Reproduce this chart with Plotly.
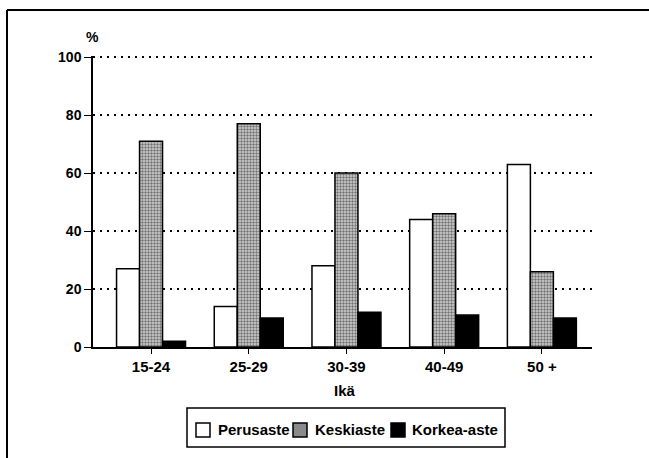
import plotly.graph_objects as go

categories = ["15-24", "25-29", "30-39", "40-49", "50 +"]
series_names = ["Perusaste", "Keskiaste", "Korkea-aste"]
perusaste = [27, 14, 28, 44, 63]
keskiaste = [71, 77, 60, 46, 26]
korkea_aste = [2, 10, 12, 11, 10]
y_ticks = [0, 20, 40, 60, 80, 100]

FONT = "Liberation Sans, Arial, sans-serif"
line = dict(color="black", width=1.5)
GREY_PATTERN = dict(shape=".", fgcolor="#111111", bgcolor="#d4d4d4", size=3, solidity=0.5)

# plot-area pixel geometry (page is 649x458)
L, R, T, B = 93, 592, 56, 347
W, H = R - L, B - T


def px(x):
    return (x - L) / W


def py(y):
    return (B - y) / H


fig = go.Figure()
fig.add_trace(go.Bar(name=series_names[0], x=list(range(5)), y=perusaste,
                     marker=dict(color="white", line=line)))
fig.add_trace(go.Bar(name=series_names[1], x=list(range(5)), y=keskiaste,
                     marker=dict(color="#c8c8c8", line=line, pattern=GREY_PATTERN)))
fig.add_trace(go.Bar(name=series_names[2], x=list(range(5)), y=korkea_aste,
                     marker=dict(color="black", line=line)))

# legend drawn as a compact boxed key under the axis title
sw_top, sw_bot = 423, 437
swatches = [(196, "white"), (293, "#8a8a8a"), (391, "black")]
text_x = [216, 313, 410]
shapes = [
    dict(type="rect", xref="paper", yref="paper", x0=px(187), x1=px(505), y0=py(447), y1=py(408),
         line=dict(color="black", width=1.5), fillcolor="white", layer="above"),
    # outer frame (left and top edges)
    dict(type="line", xref="paper", yref="paper", x0=px(7), x1=px(7), y0=py(470), y1=py(10),
         line=dict(color="black", width=2)),
    dict(type="line", xref="paper", yref="paper", x0=px(7), x1=px(660), y0=py(10), y1=py(10),
         line=dict(color="black", width=2)),
]
for (sx, col) in swatches:
    shapes.append(dict(type="rect", xref="paper", yref="paper", x0=px(sx), x1=px(sx + 14),
                       y0=py(sw_bot), y1=py(sw_top), fillcolor=col,
                       line=dict(color="black", width=1.5), layer="above"))

annotations = [
    dict(text="%", x=px(92), y=py(37), xref="paper", yref="paper", showarrow=False,
         xanchor="center", yanchor="middle", font=dict(size=14, weight="bold")),
    dict(text="Ikä", x=px(345), y=py(390), xref="paper", yref="paper", showarrow=False,
         xanchor="center", yanchor="middle", font=dict(size=15, weight="bold")),
]
for name, tx in zip(series_names, text_x):
    annotations.append(dict(text=name, x=px(tx), y=py(430), xref="paper", yref="paper",
                            showarrow=False, xanchor="left", yanchor="middle",
                            font=dict(size=15, weight="bold")))

fig.update_layout(
    width=649, height=458,
    margin=dict(l=L, r=649 - R, t=T, b=458 - B, autoexpand=False),
    paper_bgcolor="white", plot_bgcolor="white",
    barmode="group", bargap=0.294, bargroupgap=0,
    font=dict(family=FONT, size=14, color="black", weight="bold"),
    showlegend=False,
    xaxis=dict(range=[-0.594, 4.513], tickmode="array", tickvals=list(range(5)),
               ticktext=categories, showline=True, linecolor="black", linewidth=1.5,
               ticks="outside", ticklen=5, tickcolor="black", showgrid=False,
               zeroline=False, tickfont=dict(size=15, weight="bold")),
    yaxis=dict(range=[0, 100.4], tickvals=y_ticks, showline=True, linecolor="black",
               linewidth=1.5, ticks="outside", ticklen=7, tickcolor="black",
               showgrid=True, gridcolor="black", griddash="2px,5px", gridwidth=1.5,
               zeroline=False, tickfont=dict(size=14, weight="bold")),
    annotations=annotations,
    shapes=shapes,
)

fig.write_html("out.html", config={"displayModeBar": False},
               post_script="document.body.style.margin='0';")
